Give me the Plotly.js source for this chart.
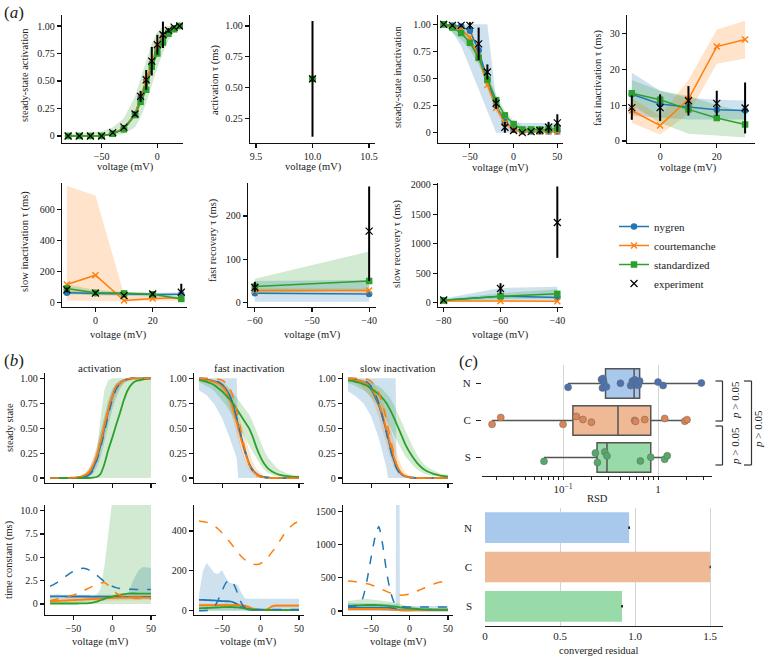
<!DOCTYPE html>
<html><head><meta charset="utf-8">
<script src="https://cdn.plot.ly/plotly-3.0.1.min.js"></script>
<style>html,body{margin:0;padding:0;background:#fff}#chart{width:765px;height:656px}</style>
</head><body><div id="chart"></div>
<script>
// ---------------- (a) data ----------------
const vAct=[-80,-70,-60,-50,-40,-30,-20,-15,-10,-5,0,5,10,15,20];
const actExp=[0,0,0,0,0.03,0.08,0.2,0.36,0.51,0.68,0.83,0.92,0.96,0.99,1.0];
const actExpErr=[0,0,0,0,0.01,0.015,0.02,0.05,0.09,0.13,0.09,0.12,0.02,0.01,0.01];
const actNygA=[0,0,0,0,0.02,0.07,0.2,0.35,0.5,0.66,0.8,0.9,0.95,0.98,1.0];
const actCouA=[0,0,0,0,0.02,0.07,0.2,0.36,0.52,0.68,0.82,0.92,0.96,0.98,1.0];
const actStdA=[0,0,0,0,0.02,0.06,0.19,0.31,0.42,0.63,0.75,0.85,0.93,0.97,1.0];
const actStdAHi=[0.02,0.02,0.03,0.04,0.08,0.16,0.36,0.52,0.68,0.84,0.95,0.99,1,1,1];
const actStdALo=[0,0,0,0,0.005,0.02,0.08,0.17,0.3,0.45,0.62,0.76,0.87,0.94,0.98];

const vTauAct=[10];
const tauActExp=[0.57], tauActExpErr=[0.47];
const tauActNygA=[0.57], tauActCouA=[0.57], tauActStdA=[0.57];

const vInact=[-80,-70,-60,-50,-40,-30,-20,-10,0,10,20,30,40,50];
const inactExp=[1.0,0.99,0.99,0.99,0.82,0.56,0.27,0.05,0.02,0.0,0.01,0.02,0.05,0.09];
const inactExpErr=[0,0.01,0.01,0.03,0.15,0.07,0.05,0.05,0.02,0.01,0.01,0.03,0.05,0.08];
const inactNygA=[1.0,0.99,0.98,0.94,0.76,0.49,0.25,0.1,0.03,0.01,0.01,0.01,0.01,0.01];
const inactCouA=[1.0,0.98,0.95,0.88,0.7,0.44,0.23,0.09,0.03,0.01,0.01,0.01,0.01,0.01];
const inactStdA=[1.0,0.97,0.92,0.83,0.69,0.49,0.3,0.16,0.08,0.03,0.03,0.03,0.03,0.04];
const inactNygAHi=[1,1,1,1,1,1,0.3,0.15,0.1,0.09,0.09,0.09,0.09,0.09];
const inactNygALo=[1,0.93,0.8,0.6,0.4,0.2,0,0,0,0,0,0,0,0];
const inactStdAHi=[1,1,0.97,0.88,0.74,0.54,0.35,0.2,0.11,0.06,0.06,0.06,0.06,0.07];
const inactStdALo=[0.99,0.92,0.86,0.77,0.63,0.44,0.25,0.12,0.05,0.01,0.01,0.01,0.01,0.02];
const inactCouAHi=[1,0.99,0.97,0.91,0.74,0.48,0.27,0.12,0.05,0.02,0.02,0.02,0.02,0.02];
const inactCouALo=[0.99,0.96,0.92,0.84,0.66,0.4,0.19,0.06,0.01,0,0,0,0,0];

const vFast=[-10,0,10,20,30];
const fastExp=[9.3,9.3,11.2,10.5,9.2], fastExpErr=[3.4,3.7,4.1,3.5,7.1];
const fastNygA=[13,10.3,9.5,8.7,8.5], fastNygAHi=[19,14,12,11.5,11.3], fastNygALo=[7,6.5,6,6,6];
const fastCouA=[8.5,4.3,11.7,26.3,28.3], fastCouAHi=[12,7,17,31,33.5], fastCouALo=[5,1.8,7.5,21.5,23];
const fastStdA=[13.3,11.5,8.8,6.4,4.6], fastStdAHi=[17,14,12.5,10,8], fastStdALo=[10,5,2,1.5,1];

const vSlow=[-10,0,10,20,30];
const slowExp=[80,60,43,54,65], slowExpErrP=[15,10,10,10,55], slowExpErrM=[15,10,10,10,5];
const slowNygA=[62,58,52,50,52], slowNygAHi=[74,70,64,62,64], slowNygALo=[50,46,40,38,40];
const slowCouA=[115,175,12,25,30], slowCouAHi=[750,690,50,40,40], slowCouALo=[10,10,5,10,10];
const slowStdA=[90,62,58,52,22], slowStdAHi=[115,80,68,62,35], slowStdALo=[60,48,48,42,15];

const vFRec=[-60,-40];
const fRecExp=[35,165], fRecExpErrP=[13,103], fRecExpErrM=[10,115];
const fRecNygA=[22,20], fRecNygAHi=[50,52], fRecNygALo=[2,2];
const fRecCouA=[28,28], fRecCouAHi=[33,33], fRecCouALo=[23,23];
const fRecStdA=[37,50], fRecStdAHi=[55,118], fRecStdALo=[22,30];

const vSRec=[-80,-60,-40];
const sRecExp=[45,240,1360], sRecExpErrP=[15,90,610], sRecExpErrM=[15,90,600];
const sRecNygA=[40,110,90], sRecNygAHi=[70,250,270], sRecNygALo=[20,40,40];
const sRecCouA=[30,30,25], sRecCouAHi=[40,45,40], sRecCouALo=[20,20,15];
const sRecStdA=[40,110,150], sRecStdAHi=[60,160,230], sRecStdALo=[30,60,70];

// ---------------- (b) data ----------------
const V5=[-80,-75,-70,-65,-60,-55,-50,-45,-40,-35,-30,-25,-20,-15,-10,-5,0,5,10,15,20,25,30,35,40,45,50];
const actNygDash=[0,0,0,0,0,0,0,0.002,0.005,0.012,0.03,0.07,0.17,0.3,0.46,0.63,0.78,0.89,0.95,0.98,0.99,1,1,1,1,1,1];
const actNyg=[0,0,0,0,0,0,0.001,0.003,0.006,0.016,0.04,0.09,0.19,0.33,0.5,0.67,0.81,0.9,0.95,0.98,0.99,1,1,1,1,1,1];
const actCou=[0,0,0,0,0,0.002,0.004,0.008,0.015,0.03,0.06,0.12,0.22,0.36,0.52,0.68,0.81,0.9,0.95,0.98,0.99,1,1,1,1,1,1];
const actCouDash=[0,0,0,0,0,0,0.002,0.005,0.01,0.025,0.05,0.11,0.21,0.35,0.52,0.69,0.83,0.92,0.96,0.985,0.995,1,1,1,1,1,1];
const actStd=[0,0,0,0,0,0,0,0,0,0,0,0.003,0.01,0.04,0.14,0.28,0.4,0.53,0.65,0.78,0.88,0.94,0.97,0.98,0.99,0.995,1];
const actStdHi=[0,0,0,0,0,0,0,0,0,0.005,0.02,0.06,0.25,0.6,0.88,0.98,1,1,1,1,1,1,1,1,1,1,1];
const actStdLo=[0,0,0,0,0,0,0,0,0,0,0,0,0,0,0,0,0,0,0,0,0,0,0,0,0,0,0];
const actNygHi=[0.005,0.005,0.005,0.005,0.005,0.005,0.005,0.008,0.015,0.04,0.09,0.17,0.3,0.45,0.62,0.78,0.89,0.95,0.98,0.99,1,1,1,1,1,1,1];
const actNygLo=[0,0,0,0,0,0,0,0,0,0,0.01,0.04,0.1,0.2,0.35,0.52,0.68,0.8,0.89,0.95,0.98,0.99,0.995,0.995,0.995,0.995,0.995];
const actCouHi=[0,0,0,0,0.002,0.005,0.008,0.015,0.03,0.05,0.1,0.18,0.3,0.45,0.61,0.76,0.87,0.94,0.97,0.99,1,1,1,1,1,1,1];
const actCouLo=[0,0,0,0,0,0,0,0.002,0.006,0.015,0.03,0.07,0.15,0.27,0.42,0.58,0.73,0.84,0.91,0.95,0.97,0.98,0.99,0.99,0.99,0.99,0.99];

const fiNyg=[0.99,0.99,0.985,0.98,0.97,0.955,0.93,0.89,0.82,0.71,0.56,0.41,0.27,0.15,0.08,0.04,0.02,0.01,0.005,0,0,0,0,0,0,0,0];
const fiNygDash=[1,1,0.995,0.99,0.98,0.965,0.94,0.9,0.83,0.72,0.57,0.41,0.26,0.14,0.07,0.03,0.015,0.007,0.003,0,0,0,0,0,0,0,0];
const fiCou=[0.995,0.99,0.985,0.975,0.965,0.95,0.92,0.87,0.79,0.67,0.53,0.38,0.25,0.14,0.07,0.035,0.015,0.007,0.003,0,0,0,0,0,0,0,0];
const fiCouDash=[1,1,1,1,0.995,0.99,0.98,0.95,0.9,0.8,0.65,0.46,0.28,0.14,0.06,0.025,0.01,0.004,0.002,0,0,0,0,0,0,0,0];
const fiStd=[0.985,0.975,0.965,0.95,0.93,0.9,0.87,0.83,0.79,0.74,0.68,0.62,0.56,0.5,0.41,0.3,0.21,0.14,0.095,0.065,0.045,0.032,0.024,0.018,0.014,0.011,0.01];
const fiStdHi=[1,1,0.995,0.99,0.98,0.965,0.945,0.92,0.89,0.85,0.8,0.75,0.7,0.64,0.56,0.46,0.36,0.27,0.2,0.15,0.11,0.08,0.06,0.045,0.035,0.028,0.022];
const fiStdLo=[0.96,0.94,0.92,0.9,0.87,0.83,0.78,0.73,0.67,0.61,0.54,0.47,0.4,0.33,0.26,0.19,0.13,0.08,0.05,0.03,0.02,0.012,0.008,0.005,0.003,0.002,0.001];
const fiCouHi=[1,1,1,0.995,0.99,0.98,0.965,0.94,0.89,0.8,0.68,0.54,0.4,0.27,0.16,0.09,0.05,0.025,0.012,0.006,0.003,0,0,0,0,0,0];
const fiCouLo=[0.98,0.97,0.96,0.945,0.925,0.9,0.86,0.8,0.7,0.56,0.41,0.27,0.16,0.08,0.035,0.015,0.006,0.002,0,0,0,0,0,0,0,0,0];
const fiNygBandV=[-80,-70,-60,-50,-40,-35,-31,-29,-25,-20,-15,-10,-5,0,10,20,30,40,50];
const fiNygBandHi=[1,1,1,1,1,1,1,0.45,0.3,0.18,0.1,0.05,0.02,0.01,0.005,0,0,0,0];
const fiNygBandLo=[0.88,0.83,0.74,0.6,0.4,0.3,0.2,0,0,0,0,0,0,0,0,0,0,0,0];

const siNyg=[0.99,0.99,0.98,0.975,0.96,0.93,0.89,0.82,0.73,0.61,0.47,0.31,0.17,0.08,0.035,0.015,0.006,0.003,0,0,0,0,0,0,0,0,0];
const siNygDash=[1,1,0.995,0.99,0.98,0.96,0.92,0.85,0.75,0.61,0.45,0.29,0.15,0.07,0.03,0.012,0.005,0.002,0,0,0,0,0,0,0,0,0];
const siCou=[0.995,0.99,0.985,0.975,0.96,0.935,0.9,0.84,0.75,0.63,0.49,0.34,0.2,0.1,0.045,0.02,0.008,0.003,0,0,0,0,0,0,0,0,0];
const siCouDash=[1,1,1,1,1,0.99,0.97,0.93,0.86,0.74,0.58,0.4,0.23,0.1,0.04,0.015,0.005,0.002,0,0,0,0,0,0,0,0,0];
const siStd=[0.98,0.975,0.965,0.955,0.94,0.925,0.9,0.87,0.84,0.8,0.75,0.68,0.6,0.51,0.42,0.33,0.26,0.2,0.15,0.11,0.08,0.06,0.045,0.035,0.025,0.02,0.015];
const siStdHi=[1,1,0.995,0.99,0.985,0.975,0.96,0.94,0.92,0.89,0.85,0.8,0.73,0.65,0.56,0.47,0.38,0.3,0.23,0.17,0.13,0.1,0.08,0.06,0.045,0.035,0.03];
const siStdLo=[0.95,0.94,0.92,0.9,0.88,0.85,0.81,0.77,0.72,0.66,0.59,0.51,0.43,0.35,0.28,0.21,0.16,0.12,0.085,0.06,0.04,0.03,0.02,0.015,0.01,0.008,0.005];
const siCouHi=[1,1,1,0.995,0.99,0.98,0.96,0.93,0.87,0.78,0.66,0.51,0.35,0.21,0.11,0.05,0.02,0.01,0.005,0,0,0,0,0,0,0,0];
const siCouLo=[0.97,0.96,0.95,0.93,0.9,0.86,0.8,0.72,0.61,0.47,0.33,0.2,0.1,0.04,0.015,0.005,0,0,0,0,0,0,0,0,0,0,0];
const siNygBandV=[-80,-70,-60,-50,-40,-35,-30,-28,-20,-18,-17,-15,-10,0,10,20,30,40,50];
const siNygBandHi=[1,1,1,1,1,1,1,1,1,1,0.08,0.05,0.03,0.01,0.005,0,0,0,0];
const siNygBandLo=[0.87,0.82,0.75,0.62,0.4,0.26,0.1,0,0,0,0,0,0,0,0,0,0,0,0];

const tauActNygDash=[1.9,2.1,2.35,2.65,2.95,3.25,3.5,3.7,3.8,3.8,3.65,3.4,3.1,2.75,2.4,2.1,1.9,1.75,1.65,1.6,1.58,1.57,1.56,1.56,1.56,1.56,1.56];
const tauActCouDash=[0.35,0.45,0.55,0.65,0.75,0.85,0.95,1.1,1.3,1.5,1.7,1.9,2.1,2.25,2.3,2.0,1.6,1.2,0.95,0.8,0.7,0.65,0.6,0.6,0.55,0.55,0.55];
const tauActNyg=[0.8,0.82,0.82,0.81,0.8,0.8,0.8,0.8,0.8,0.8,0.8,0.79,0.79,0.78,0.78,0.78,0.77,0.76,0.75,0.75,0.75,0.74,0.74,0.74,0.75,0.75,0.75];
const tauActCou=[0.3,0.31,0.33,0.35,0.37,0.4,0.42,0.43,0.45,0.47,0.5,0.52,0.55,0.57,0.6,0.62,0.64,0.66,0.67,0.68,0.69,0.7,0.7,0.7,0.69,0.68,0.68];
const tauActStd=[0.05,0.05,0.05,0.05,0.05,0.05,0.05,0.05,0.06,0.07,0.1,0.15,0.25,0.4,0.55,0.7,0.8,0.9,1.0,1.05,1.1,1.12,1.12,1.11,1.1,1.1,1.1];
const tauActStdHi=[0.5,0.5,0.5,0.5,0.5,0.5,0.5,0.5,0.55,0.65,0.75,0.85,1.0,1.6,4.0,7.5,11,12,12,12,12,12,12,12,12,12,12];
const tauActStdLo=[0,0,0,0,0,0,0,0,0,0,0,0,0,0,0,0,0,0,0,0,0,0,0,0,0,0,0];
const tauActNygHi=[1.0,1.05,1.05,1.0,1.0,1.0,0.95,0.95,0.95,0.95,0.95,0.95,0.95,1.0,1.0,1.0,1.0,1.0,1.0,1.0,1.0,2.1,3.0,3.7,3.95,3.9,3.85];
const tauActNygLo=[0.55,0.55,0.55,0.55,0.55,0.55,0.55,0.55,0.55,0.55,0.55,0.55,0.55,0.55,0.55,0.55,0.55,0.55,0.55,0.55,0.55,0.55,0.55,0.55,0.55,0.55,0.55];
const tauActCouHi=[0.55,0.56,0.58,0.6,0.62,0.65,0.67,0.68,0.7,0.72,0.75,0.77,0.8,0.82,0.85,0.87,0.89,0.91,0.92,0.93,0.94,0.95,0.95,0.95,0.94,0.93,0.93];
const tauActCouLo=[0.1,0.1,0.12,0.13,0.14,0.16,0.18,0.19,0.2,0.22,0.25,0.27,0.3,0.32,0.35,0.37,0.39,0.41,0.42,0.43,0.44,0.45,0.45,0.45,0.44,0.43,0.43];

const tfCouDash=[450,447,443,437,425,410,390,368,345,320,295,272,255,242,234,232,237,250,270,295,320,350,380,405,425,440,447];
const tfNygDash=[0,0,1,5,20,55,100,140,155,135,90,40,15,8,6,6,6,6,6,6,6,6,6,6,6,6,6];
const tfNyg=[55,55,54,53,52,50,49,48,47,42,33,22,12,6,4,3,3,3,3,3,3,3,3,3,3,3,3];
const tfCou=[28,28,28,28,28,28,28,28,28,28,28,27,25,18,10,6,5,5,10,22,26,26,26,26,26,26,26];
const tfStd=[12,13,14,15,16,17,18,18.5,19,18,17,15,12,9,7,6,5,4.5,4,3.5,3,3,3,3,3,3,3];
const tfNygHi=[80,200,240,215,190,185,205,165,140,135,130,90,62,60,60,60,60,60,60,60,60,60,60,60,60,60,60];
const tfNygLo=[0,0,0,0,0,0,0,0,0,0,0,0,0,0,0,0,0,0,0,0,0,0,0,0,0,0,0];
const tfStdHi=[25,27,30,32,34,36,38,38,37,35,32,28,22,16,12,10,9,8,8,7,7,7,7,7,7,7,7];
const tfStdLo=[2,2,2,2,2,2,2,2,2,2,2,2,2,2,2,2,2,2,2,2,2,2,2,2,2,2,2];
const tfCouHi=[36,36,36,36,36,36,36,36,36,36,36,35,33,26,18,13,12,12,17,30,34,34,34,34,34,34,34];
const tfCouLo=[20,20,20,20,20,20,20,20,20,20,20,19,17,11,4,1,1,1,4,14,18,18,18,18,18,18,18];

const tsNygDash=[70,70,75,90,220,480,800,1100,1270,1000,600,300,130,75,65,62,60,60,60,60,60,60,60,60,60,60,60];
const tsCouDash=[450,448,440,430,420,410,395,370,345,320,295,270,250,240,238,243,255,275,300,325,350,375,400,420,435,443,445];
const tsNyg=[50,50,50,50,50,50,50,50,50,50,50,48,42,20,10,8,8,8,8,8,8,8,8,8,8,8,8];
const tsCou=[30,30,30,30,30,30,30,30,28,26,24,20,16,12,10,10,10,12,14,16,18,20,20,20,20,20,20];
const tsStd=[80,82,84,86,88,90,90,90,88,85,80,74,68,60,52,45,40,35,30,27,25,23,22,21,20,20,20];
const tsStdHi=[150,160,170,175,180,180,175,170,165,160,150,140,130,110,95,80,70,60,55,50,45,42,40,40,40,40,40];
const tsStdLo=[10,10,10,10,10,10,10,10,10,10,10,10,10,10,10,10,10,10,10,10,10,10,10,10,10,10,10];
const tsCouHi=[45,45,45,45,45,45,45,45,43,41,39,35,31,27,25,25,25,27,29,31,33,35,35,35,35,35,35];
const tsCouLo=[15,15,15,15,15,15,15,15,13,11,9,5,1,0,0,0,0,0,0,1,3,5,5,5,5,5,5];
const tsNygBandV=[-80,-70,-60,-50,-40,-30,-25,-20,-18,-17.5,-13,-12.5,-10,0,10,20,30,40,50];
const tsNygBandHi=[120,120,120,120,120,120,110,100,100,1700,1700,80,75,75,75,75,75,75,75];
const tsNygBandLo=[0,0,0,0,0,0,0,0,0,0,0,0,0,0,0,0,0,0,0];

// ---------------- (c) data ----------------
const cats=['N','C','S'];
const rsdN=[0.113,0.254,0.26,0.263,0.268,0.286,0.402,0.515,0.536,0.569,0.59,0.606,0.62,0.64,1.0,1.13,2.86];
const rsdC=[0.0179,0.0221,0.1,0.138,0.162,0.199,0.567,0.58,0.724,1.175,1.91,2.02];
const rsdS=[0.063,0.219,0.23,0.275,0.29,0.652,0.838,1.175,1.25];
const boxQ1=[0.28,0.127,0.228], boxMed=[0.56,0.379,0.29], boxQ3=[0.64,0.838,0.838];
const boxLo=[0.113,0.0179,0.063], boxHi=[2.86,2.02,1.25];
const residual=[0.96,1.5,0.913], residualErr=[0.006,0.004,0.006];

// tick labels
const unitVals=[0,0.25,0.5,0.75,1], unitText=['0','0.25','0.50','0.75','1.00'];
const rsdTickVals=[0.1,1], rsdTickText=['10<sup>\u22121</sup>','1'];
const rsdMinor=[0.02,0.03,0.04,0.05,0.06,0.07,0.08,0.09,0.2,0.3,0.4,0.5,0.6,0.7,0.8,0.9,2,3];
const resTickVals=[0,0.5,1,1.5], resTickText=['0','0.5','1.0','1.5'];

// ---------------- build ----------------
const FONT='Liberation Serif, DejaVu Serif, serif';
const W=765,H=656;
const px=v=>v/W, py=v=>1-v/H;
const sfx=n=>n===1?'':String(n);
const COL={nyg:'#1f77b4',cou:'#ff7f0e',std:'#2ca02c'};
const NAMES={nyg:'nygren',cou:'courtemanche',std:'standardized'};
const data=[];
function hexA(hex,a){const r=parseInt(hex.slice(1,3),16),g=parseInt(hex.slice(3,5),16),b=parseInt(hex.slice(5,7),16);return 'rgba('+r+','+g+','+b+','+a+')';}
function ax(n){return {xaxis:'x'+sfx(n),yaxis:'y'+sfx(n)};}
function addBand(n,xs,hi,lo,color,alpha){
  data.push(Object.assign({type:'scatter',mode:'lines',x:xs.concat(xs.slice().reverse()),y:hi.concat(lo.slice().reverse()),
    fill:'toself',fillcolor:hexA(color,alpha||0.22),line:{width:0},hoverinfo:'skip',showlegend:false},ax(n)));
}
function addModel(n,xs,ys,key,legend){
  const c=COL[key];
  const sym={nyg:'circle',cou:'x-thin',std:'square'}[key];
  data.push(Object.assign({type:'scatter',mode:'lines+markers',x:xs,y:ys,name:NAMES[key],legendgroup:key,showlegend:!!legend,
    line:{color:c,width:1.5},marker:{symbol:sym,size:key==='cou'?6:6.5,color:c,line:{color:c,width:key==='cou'?1.4:0}},hoverinfo:'skip'},ax(n)));
}
function addExp(n,xs,ys,plus,minus,legend){
  data.push(Object.assign({type:'scatter',mode:'markers',x:xs,y:ys,name:'experiment',legendgroup:'exp',showlegend:!!legend,
    marker:{symbol:'x-thin',size:7,color:'#000',line:{color:'#000',width:1.2}},
    error_y:{type:'data',symmetric:false,array:plus,arrayminus:minus,color:'#000',thickness:2,width:0},hoverinfo:'skip'},ax(n)));
}
function addCurve(n,xs,ys,color,dash){
  data.push(Object.assign({type:'scatter',mode:'lines',x:xs,y:ys,showlegend:false,hoverinfo:'skip',
    line:{color:color,width:dash?1.5:1.8,dash:dash?'dash':'solid',shape:'spline',smoothing:0.6}},ax(n)));
}

// (a1)
addBand(1,vAct,actStdAHi,actStdALo,COL.std);
addModel(1,vAct,actNygA,'nyg',true);
addModel(1,vAct,actCouA,'cou',true);
addModel(1,vAct,actStdA,'std',true);
addExp(1,vAct,actExp,actExpErr,actExpErr,true);
// (a2)
addModel(2,vTauAct,tauActNygA,'nyg');addModel(2,vTauAct,tauActCouA,'cou');addModel(2,vTauAct,tauActStdA,'std');
addExp(2,vTauAct,tauActExp,tauActExpErr,tauActExpErr);
// (a3)
addBand(3,vInact,inactNygAHi,inactNygALo,COL.nyg);
addBand(3,vInact,inactCouAHi,inactCouALo,COL.cou);
addBand(3,vInact,inactStdAHi,inactStdALo,COL.std);
addModel(3,vInact,inactNygA,'nyg');addModel(3,vInact,inactCouA,'cou');addModel(3,vInact,inactStdA,'std');
addExp(3,vInact,inactExp,inactExpErr,inactExpErr);
// (a4)
addBand(4,vFast,fastNygAHi,fastNygALo,COL.nyg);addBand(4,vFast,fastCouAHi,fastCouALo,COL.cou);addBand(4,vFast,fastStdAHi,fastStdALo,COL.std);
addModel(4,vFast,fastNygA,'nyg');addModel(4,vFast,fastCouA,'cou');addModel(4,vFast,fastStdA,'std');
addExp(4,vFast,fastExp,fastExpErr,fastExpErr);
// (a5)
addBand(5,vSlow,slowNygAHi,slowNygALo,COL.nyg);addBand(5,vSlow,slowCouAHi,slowCouALo,COL.cou);addBand(5,vSlow,slowStdAHi,slowStdALo,COL.std);
addModel(5,vSlow,slowNygA,'nyg');addModel(5,vSlow,slowCouA,'cou');addModel(5,vSlow,slowStdA,'std');
addExp(5,vSlow,slowExp,slowExpErrP,slowExpErrM);
// (a6)
addBand(6,vFRec,fRecNygAHi,fRecNygALo,COL.nyg);addBand(6,vFRec,fRecCouAHi,fRecCouALo,COL.cou);addBand(6,vFRec,fRecStdAHi,fRecStdALo,COL.std);
addModel(6,vFRec,fRecNygA,'nyg');addModel(6,vFRec,fRecCouA,'cou');addModel(6,vFRec,fRecStdA,'std');
addExp(6,vFRec,fRecExp,fRecExpErrP,fRecExpErrM);
// (a7)
addBand(7,vSRec,sRecNygAHi,sRecNygALo,COL.nyg);addBand(7,vSRec,sRecCouAHi,sRecCouALo,COL.cou);addBand(7,vSRec,sRecStdAHi,sRecStdALo,COL.std);
addModel(7,vSRec,sRecNygA,'nyg');addModel(7,vSRec,sRecCouA,'cou');addModel(7,vSRec,sRecStdA,'std');
addExp(7,vSRec,sRecExp,sRecExpErrP,sRecExpErrM);

// (b) panels
function bPanel(n,bands,curves){
  bands.forEach(b=>addBand(n,b[0],b[1],b[2],b[3],0.22));
  curves.forEach(c=>addCurve(n,V5,c[0],c[1],c[2]));
}
bPanel(8,[[V5,actNygHi,actNygLo,COL.nyg],[V5,actCouHi,actCouLo,COL.cou],[V5,actStdHi,actStdLo,COL.std]],
  [[actNyg,COL.nyg],[actCou,COL.cou],[actStd,COL.std],[actNygDash,COL.nyg,1],[actCouDash,COL.cou,1]]);
bPanel(9,[[fiNygBandV,fiNygBandHi,fiNygBandLo,COL.nyg],[V5,fiCouHi,fiCouLo,COL.cou],[V5,fiStdHi,fiStdLo,COL.std]],
  [[fiNyg,COL.nyg],[fiCou,COL.cou],[fiStd,COL.std],[fiNygDash,COL.nyg,1],[fiCouDash,COL.cou,1]]);
bPanel(10,[[siNygBandV,siNygBandHi,siNygBandLo,COL.nyg],[V5,siCouHi,siCouLo,COL.cou],[V5,siStdHi,siStdLo,COL.std]],
  [[siNyg,COL.nyg],[siCou,COL.cou],[siStd,COL.std],[siNygDash,COL.nyg,1],[siCouDash,COL.cou,1]]);
bPanel(11,[[V5,tauActNygHi,tauActNygLo,COL.nyg],[V5,tauActCouHi,tauActCouLo,COL.cou],[V5,tauActStdHi,tauActStdLo,COL.std]],
  [[tauActNyg,COL.nyg],[tauActCou,COL.cou],[tauActStd,COL.std],[tauActNygDash,COL.nyg,1],[tauActCouDash,COL.cou,1]]);
bPanel(12,[[V5,tfNygHi,tfNygLo,COL.nyg],[V5,tfCouHi,tfCouLo,COL.cou],[V5,tfStdHi,tfStdLo,COL.std]],
  [[tfNyg,COL.nyg],[tfCou,COL.cou],[tfStd,COL.std],[tfNygDash,COL.nyg,1],[tfCouDash,COL.cou,1]]);
bPanel(13,[[tsNygBandV,tsNygBandHi,tsNygBandLo,COL.nyg],[V5,tsCouHi,tsCouLo,COL.cou],[V5,tsStdHi,tsStdLo,COL.std]],
  [[tsNyg,COL.nyg],[tsCou,COL.cou],[tsStd,COL.std],[tsNygDash,COL.nyg,1],[tsCouDash,COL.cou,1]]);

// (c) box plot
const boxFill=['#a8c8ec','#f0b995','#98dba8'];
const ptCol=['#4c72b0','#dd8452','#55a868'];
const samples=[rsdN,rsdC,rsdS];
cats.forEach((c,i)=>{
  data.push({type:'box',orientation:'h',y:[c],q1:[boxQ1[i]],median:[boxMed[i]],q3:[boxQ3[i]],lowerfence:[boxLo[i]],upperfence:[boxHi[i]],
    xaxis:'x14',yaxis:'y14',fillcolor:boxFill[i],line:{color:'#555',width:1.5},whiskerwidth:0,width:0.8,boxpoints:false,showlegend:false,hoverinfo:'skip'});
});
cats.forEach((c,i)=>{
  data.push({type:'box',orientation:'h',x:samples[i],y:samples[i].map(()=>c),boxpoints:'all',jitter:0.5,pointpos:0,
    fillcolor:'rgba(0,0,0,0)',line:{width:0,color:'rgba(0,0,0,0)'},whiskerwidth:0,width:0.8,
    marker:{color:ptCol[i],size:7,line:{color:'#666',width:0.5}},xaxis:'x14',yaxis:'y14',showlegend:false,hoverinfo:'skip'});
});
// (c) bars
data.push({type:'bar',orientation:'h',y:cats,x:residual,width:0.78,marker:{color:boxFill.slice()},
  error_x:{type:'data',array:residualErr,color:'#222',thickness:2.5,width:0},xaxis:'x15',yaxis:'y15',showlegend:false,hoverinfo:'skip'});

// ---------------- layout ----------------
const layout={width:765,height:656,margin:{l:0,r:0,t:0,b:0},paper_bgcolor:'#fff',plot_bgcolor:'rgba(0,0,0,0)',
  font:{family:FONT,size:10,color:'#222'},showlegend:true,
  legend:{x:px(614),y:py(212),xanchor:'left',yanchor:'top',bgcolor:'rgba(0,0,0,0)',font:{family:FONT,size:11,color:'#222'},itemwidth:30,tracegroupgap:0},
  annotations:[],shapes:[]};
const AXB={showline:true,linecolor:'#111',linewidth:1.2,ticks:'outside',ticklen:4,tickwidth:1.1,tickcolor:'#111',showgrid:false,zeroline:false,
  fixedrange:true,tickfont:{family:FONT,size:10,color:'#222'}};
function setAxes(n,xl,xr,yt,yb,xrange,yrange,xt,yt2,showX){
  const s=sfx(n);
  layout['xaxis'+s]=Object.assign({},AXB,{domain:[px(xl),px(xr)],range:xrange,anchor:'y'+s,tickmode:'array',tickvals:xt[0],ticktext:xt[1],showticklabels:showX!==false});
  layout['yaxis'+s]=Object.assign({},AXB,{domain:[py(yb),py(yt)],range:yrange,anchor:'x'+s,tickmode:'array',tickvals:yt2[0],ticktext:yt2[1]});
}
const vTicks=(vals)=>[vals,vals.map(v=>v<0?'\u2212'+(-v):String(v))];
setAxes(1,62,183,15,143,[-85.5,23],[-0.064,1.1],vTicks([-50,0]),[unitVals,unitText]);
setAxes(2,250,375,15,143,[9.447,10.553],[0.049,1.089],[[9.5,10,10.5],['9.5','10.0','10.5']],[[0.25,0.5,0.75,1],['0.25','0.50','0.75','1.00']]);
setAxes(3,438,563,15,143,[-86.5,56.5],[-0.095,1.086],vTicks([-50,0,50]),[unitVals,unitText]);
setAxes(4,627,755,15,143,[-11.7,33.5],[-0.56,35.1],vTicks([0,20]),vTicks([0,10,20,30]));
setAxes(5,62,187,183,307,[-11.7,32],[-30,770],vTicks([0,20]),vTicks([0,200,400,600]));
setAxes(6,248,376,183,307,[-61.2,-38.8],[-10,276],vTicks([-60,-50,-40]),vTicks([0,100,200]));
setAxes(7,438,563,183,307,[-82,-38],[-73,2029],vTicks([-80,-60,-40]),vTicks([0,500,1000,1500,2000]));
setAxes(8,45,156,373,483,[-86.5,56.5],[-0.05,1.053],vTicks([-50,0,50]),[unitVals,unitText],false);
setAxes(9,194,304,373,483,[-86.5,56.5],[-0.05,1.053],vTicks([-50,0,50]),[unitVals,unitText],false);
setAxes(10,343,453,373,483,[-86.5,56.5],[-0.05,1.053],vTicks([-50,0,50]),[unitVals,unitText],false);
setAxes(11,45,156,505,615,[-86.5,56.5],[-1.18,10.6],vTicks([-50,0,50]),[[0,2.5,5,7.5,10],['0','2.5','5.0','7.5','10.0']]);
setAxes(12,194,304,505,615,[-86.5,56.5],[-21,530],vTicks([-50,0,50]),vTicks([0,200,400]));
setAxes(13,343,453,505,615,[-86.5,56.5],[-60,1592],vTicks([-50,0,50]),vTicks([0,500,1000,1500]));

layout.xaxis14={domain:[px(482),px(712)],type:'log',range:[-1.853,0.568],anchor:'y14',showline:true,linecolor:'#222',linewidth:1.2,
  ticks:'outside',ticklen:3,tickcolor:'#222',tickmode:'array',tickvals:rsdTickVals,ticktext:rsdTickText,showgrid:true,gridcolor:'#d4d4d4',gridwidth:1,
  zeroline:false,fixedrange:true,tickfont:{family:FONT,size:11,color:'#222'},
  minor:{tickmode:'array',tickvals:rsdMinor,ticks:'outside',ticklen:3,tickcolor:'#222',showgrid:false}};
layout.yaxis14={domain:[py(476),py(365)],type:'category',categoryorder:'array',categoryarray:cats,range:[2.5,-0.5],anchor:'x14',
  showline:false,ticks:'outside',ticklen:5,tickcolor:'#222',showgrid:false,zeroline:false,fixedrange:true,ticklabelstandoff:3,
  tickfont:{family:FONT,size:11,color:'#222'}};
layout.xaxis15={domain:[px(485),px(723)],range:[0,1.585],anchor:'y15',showline:true,linecolor:'#222',linewidth:1.2,ticks:'',
  tickmode:'array',tickvals:resTickVals,ticktext:resTickText,showgrid:true,gridcolor:'#d4d4d4',gridwidth:1,zeroline:false,fixedrange:true,
  tickfont:{family:FONT,size:11,color:'#222'}};
layout.yaxis15={domain:[py(626),py(508)],type:'category',categoryorder:'array',categoryarray:cats,range:[2.5,-0.5],anchor:'x15',
  showline:false,ticks:'',showgrid:false,zeroline:false,fixedrange:true,ticklabelstandoff:12,tickfont:{family:FONT,size:11,color:'#222'}};

// annotations
function ann(text,x,y,angle,size,extra){
  layout.annotations.push(Object.assign({text:text,x:px(x),y:py(y),xref:'paper',yref:'paper',showarrow:false,xanchor:'center',yanchor:'middle',
    textangle:angle||0,font:{family:FONT,size:size||10.5,color:'#222'}},extra||{}));
}
ann('(<i>a</i>)',2,12,0,17,{xanchor:'left'});
ann('(<i>b</i>)',2,360,0,17,{xanchor:'left'});
ann('(<i>c</i>)',457,361,0,17,{xanchor:'left'});
ann('steady-state activation',24,75,-90);
ann('voltage (mV)',125,167);
ann('activation \u03c4 (ms)',215,80,-90);
ann('voltage (mV)',313,167);
ann('steady-state inactivation',397,77,-90);
ann('voltage (mV)',500,168);
ann('fast inactivation \u03c4 (ms)',598,78,-90);
ann('voltage (mV)',688,168);
ann('slow inactivation \u03c4 (ms)',25,242,-90);
ann('voltage (mV)',118,335);
ann('fast recovery \u03c4 (ms)',213,240,-90);
ann('voltage (mV)',312,335);
ann('slow recovery \u03c4 (ms)',397,244,-90);
ann('voltage (mV)',500,335);
ann('activation',100,368,0,11);
ann('fast inactivation',249,368,0,11);
ann('slow inactivation',398,368,0,11);
ann('steady state',9,428,-90);
ann('time constant (ms)',9,560,-90);
ann('voltage (mV)',100,642);
ann('voltage (mV)',248,642);
ann('voltage (mV)',398,642);
ann('RSD',597,498);
ann('converged residual',598,650);
ann('<i>p</i> &gt; 0.05',735,400,-90,11);
ann('<i>p</i> &gt; 0.05',735,446,-90,11);
ann('<i>p</i> &gt; 0.05',758,429,-90,11);

function bracket(xl,xr,yt,yb){
  const L=(x0,y0,x1,y1)=>layout.shapes.push({type:'line',xref:'paper',yref:'paper',x0:px(x0),y0:py(y0),x1:px(x1),y1:py(y1),line:{color:'#333',width:1.2}});
  L(xl,yt,xr,yt);L(xr,yt,xr,yb);L(xr,yb,xl,yb);
}
bracket(715.5,722.5,381,421);
bracket(715.5,722.5,426,465);
bracket(744,751.5,381,465);

Plotly.newPlot('chart',data,layout,{staticPlot:true,displayModeBar:false});
</script></body></html>
